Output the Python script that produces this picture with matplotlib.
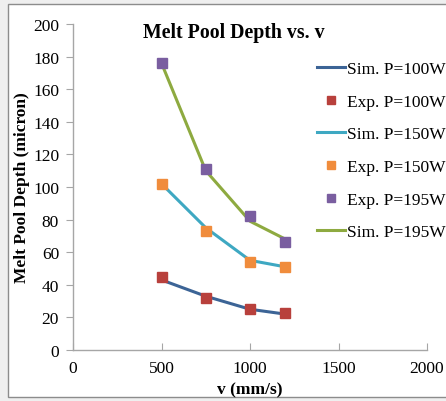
import matplotlib
matplotlib.use("Agg")
import matplotlib.pyplot as plt
from matplotlib.patches import Rectangle

# speeds (mm/s)
v = [500, 750, 1000, 1200]

# melt pool depth (micron)
sim_100 = [43, 33, 25, 22]
exp_100 = [45, 32, 25, 23]
sim_150 = [102, 75, 55, 51]
exp_150 = [102, 73, 54, 51]
sim_195 = [176, 110, 79, 68]
exp_195 = [176, 111, 82, 66]

plt.rcParams['font.family'] = ['Liberation Serif', 'DejaVu Serif']

fig = plt.figure(figsize=(4.46, 4.02), dpi=100)
fig.patch.set_facecolor('#efefef')
# white chart area with a grey border, like the pasted Excel chart
fig.patches.append(Rectangle((8 / 446, 4 / 402), 1.0, 393 / 402,
                             transform=fig.transFigure, facecolor='white',
                             edgecolor='#8c8c8c', linewidth=1.0, zorder=-5))

ax = fig.add_axes([73 / 446, 1 - 351 / 402, 354 / 446, 326 / 402])
ax.set_facecolor('none')

h_sim100, = ax.plot(v, sim_100, color='#3c6496', lw=2.2, label='Sim. P=100W')
h_exp100, = ax.plot(v, exp_100, ls='none', marker='s', ms=6.5, color='#b8403c', label='Exp. P=100W')
h_sim150, = ax.plot(v, sim_150, color='#3ea8c2', lw=2.2, label='Sim. P=150W')
h_exp150, = ax.plot(v, exp_150, ls='none', marker='s', ms=6.5, color='#f08c3c', label='Exp. P=150W')
h_sim195, = ax.plot(v, sim_195, color='#8eaa40', lw=2.2, label='Sim. P=195W')
h_exp195, = ax.plot(v, exp_195, ls='none', marker='s', ms=6.5, color='#7a5ea0', label='Exp. P=195W')

ax.set_xlim(0, 2000)
ax.set_ylim(0, 200)
ax.set_xticks([0, 500, 1000, 1500, 2000])
ax.set_yticks(range(0, 201, 20))

for s in ['top', 'right']:
    ax.spines[s].set_visible(False)
for s in ['left', 'bottom']:
    ax.spines[s].set_color('#a6a6a6')
    ax.spines[s].set_linewidth(1.0)
ax.tick_params(axis='y', direction='out', length=5, color='#a6a6a6', labelsize=12.5, pad=5)
ax.tick_params(axis='x', direction='in', length=5, color='#a6a6a6', labelsize=12.5, pad=7)

ax.set_xlabel('v (mm/s)', fontsize=12.5, fontweight='bold', labelpad=4)
ax.set_ylabel('Melt Pool Depth (micron)', fontsize=12.5, fontweight='bold', labelpad=2)

fig.text(234 / 446, 1 - 33 / 402, 'Melt Pool Depth vs. v', fontsize=14.3,
         fontweight='bold', ha='center', va='center')

handles = [h_sim100, h_exp100, h_sim150, h_exp150, h_exp195, h_sim195]
fig.legend(handles=handles, labels=[h.get_label() for h in handles],
           loc='upper left', bbox_to_anchor=(317 / 446, 1 - 62 / 402),
           frameon=False, fontsize=12.5, handlelength=1.6, handletextpad=0.1,
           labelspacing=0.95, borderpad=0, borderaxespad=0, markerscale=0.8)

fig.savefig('out.png', dpi=100, facecolor=fig.get_facecolor())
